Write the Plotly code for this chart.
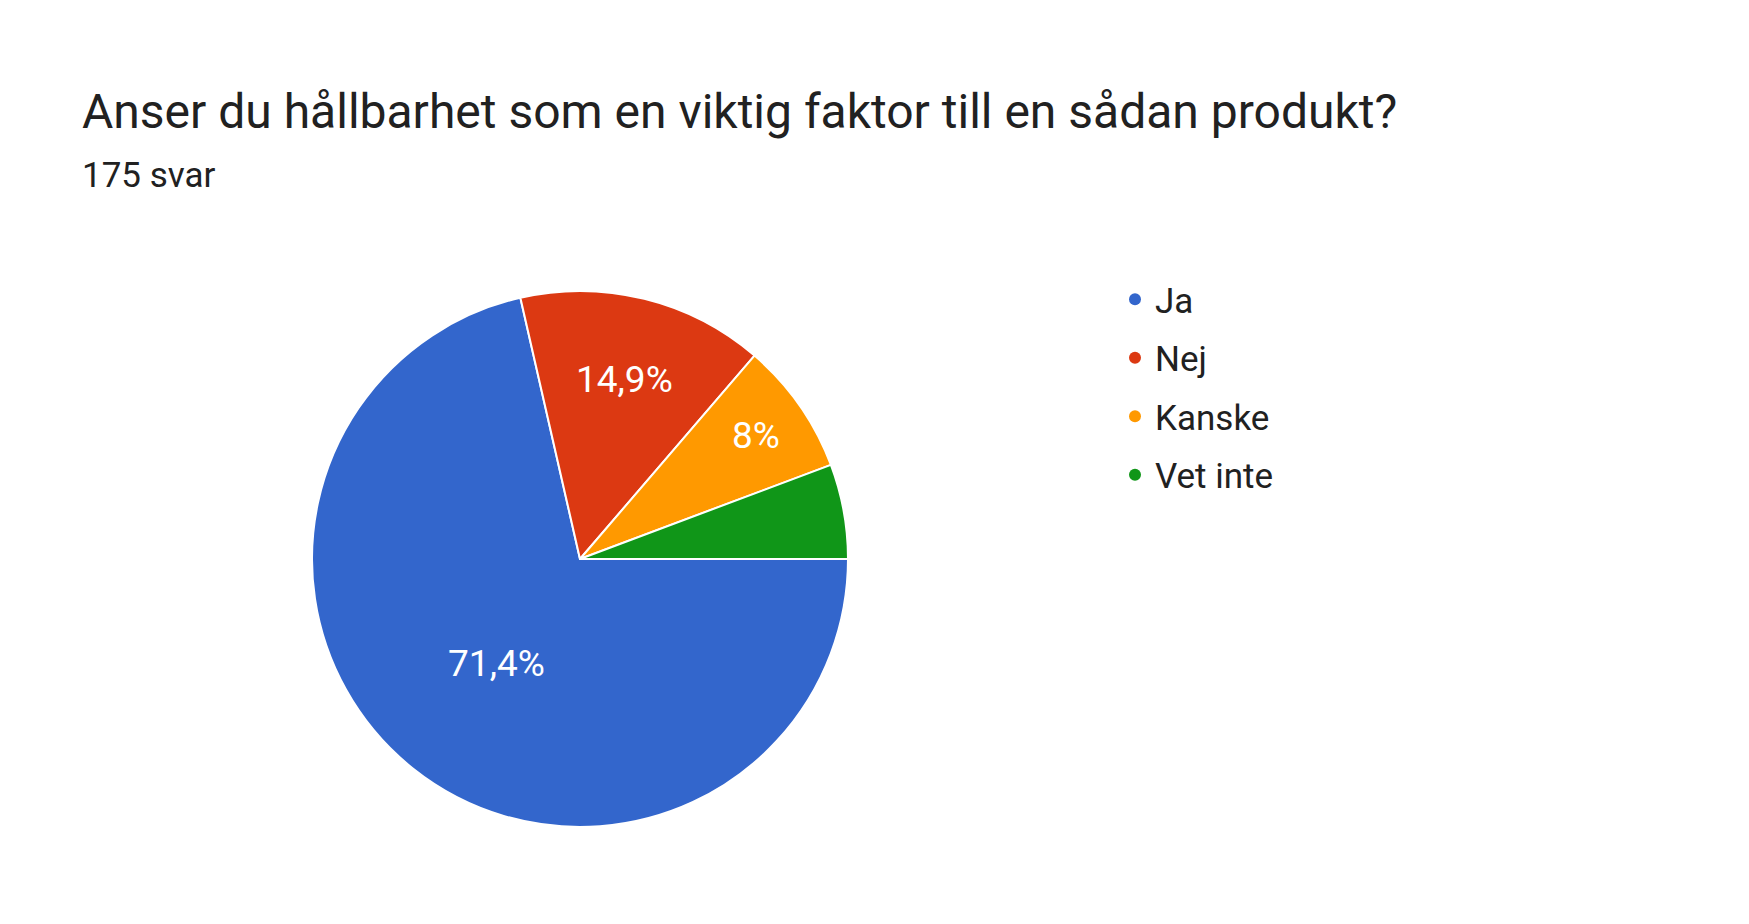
import plotly.graph_objects as go

labels = ["Ja", "Nej", "Kanske", "Vet inte"]
values = [125, 26, 14, 10]
colors = ["#3366cc", "#dc3912", "#ff9900", "#109618"]
shown = [True, True, True, False]

total = sum(values)
def fmt(v):
    p = round(v / total * 100, 1)
    s = ("%.1f" % p).rstrip("0").rstrip(".")
    return s.replace(".", ",") + "%"
texts = [fmt(v) if s else "" for v, s in zip(values, shown)]

W, H = 1749, 924
fig = go.Figure()
fig.add_trace(go.Pie(
    labels=labels, values=values, text=texts, textinfo="text",
    sort=False, direction="clockwise", rotation=90,
    marker=dict(colors=colors, line=dict(color="white", width=2)),
    textposition="inside", insidetextorientation="horizontal",
    textfont=dict(color="white", size=37, family="Roboto"),
    domain=dict(x=[304/W, 840/W], y=[1-819/H, 1-283/H]),
    showlegend=False, hoverinfo="label+percent",
))
for l, c in zip(labels, colors):
    fig.add_trace(go.Scatter(x=[None], y=[None], mode="markers", name=l, legendgroup=l,
                             marker=dict(symbol="circle", size=36, color=c)))
fig.update_layout(
    width=W, height=H, margin=dict(l=0, r=0, t=0, b=0),
    paper_bgcolor="white", plot_bgcolor="white",
    xaxis=dict(visible=False), yaxis=dict(visible=False),
    font=dict(family="Roboto", color="#212121"),
    legend=dict(x=1107/W, y=1-262/H, xanchor="left", yanchor="top",
                font=dict(size=35, color="#212121"), itemsizing="constant",
                traceorder="grouped", tracegroupgap=10, bgcolor="rgba(0,0,0,0)"),
    annotations=[
        dict(text="Anser du hållbarhet som en viktig faktor till en sådan produkt?",
             x=72/W, y=1-104/H, xref="paper", yref="paper", xanchor="left", yanchor="middle",
             showarrow=False, font=dict(size=48, color="#212121")),
        dict(text="175 svar", x=72/W, y=1-167/H, xref="paper", yref="paper",
             xanchor="left", yanchor="middle", showarrow=False,
             font=dict(size=35, color="#212121")),
    ],
)
fig.write_html("out.html")
